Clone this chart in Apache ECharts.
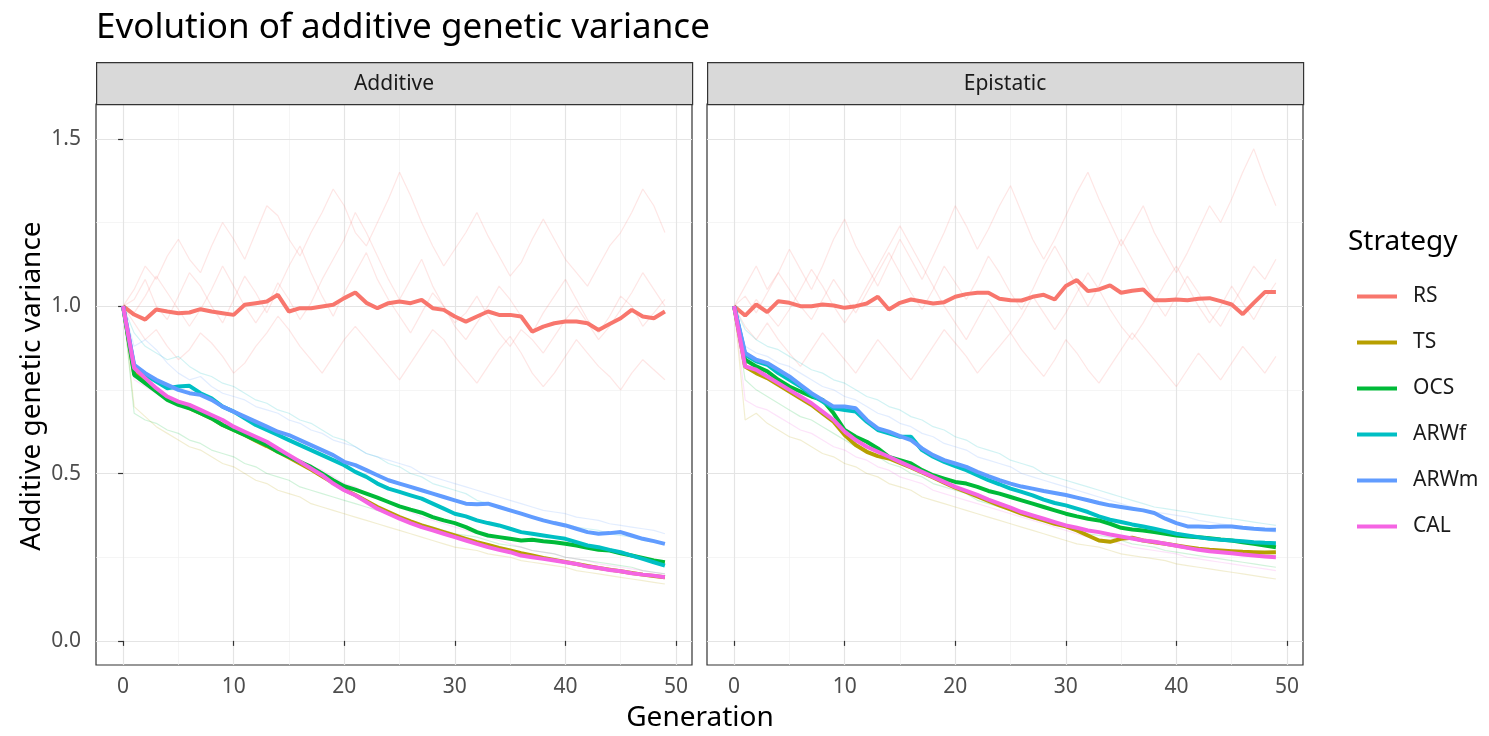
<!DOCTYPE html>
<html>
<head>
<meta charset="utf-8">
<script src="https://cdn.jsdelivr.net/npm/echarts@6/dist/echarts.min.js"></script>
<style>html,body{margin:0;padding:0;background:#fff;}#main{width:1489px;height:736px;}</style>
</head>
<body>
<div id="main"></div>
<script>
// ---------------- data ----------------
const GEN = [0,1,2,3,4,5,6,7,8,9,10,11,12,13,14,15,16,17,18,19,20,21,22,23,24,25,26,27,28,29,30,31,32,33,34,35,36,37,38,39,40,41,42,43,44,45,46,47,48,49];
const STRATEGIES = ['RS','TS','OCS','ARWf','ARWm','CAL'];
const FACETS = ['Additive','Epistatic'];
const X_TICKS = [0,10,20,30,40,50];
const X_MINOR = [5,15,25,35,45];
const Y_TICKS = [0,0.5,1,1.5];
const Y_MINOR = [0.25,0.75,1.25];

// mean lines, Additive facet
const ADD_RS = [1.000,0.975,0.960,0.990,0.984,0.979,0.981,0.991,0.984,0.979,
 0.974,1.004,1.009,1.014,1.034,0.984,0.994,0.994,0.999,1.004,
 1.024,1.041,1.010,0.994,1.009,1.014,1.009,1.019,0.994,0.989,
 0.969,0.954,0.969,0.984,0.974,0.974,0.969,0.924,0.939,0.949,
 0.954,0.954,0.949,0.929,0.947,0.964,0.989,0.969,0.964,0.984];
const ADD_TS = [1.000,0.800,0.775,0.750,0.725,0.710,0.695,0.680,0.665,0.645,
 0.630,0.615,0.598,0.582,0.565,0.548,0.530,0.512,0.492,0.472,
 0.452,0.436,0.418,0.400,0.385,0.370,0.357,0.345,0.335,0.325,
 0.315,0.305,0.295,0.287,0.278,0.270,0.262,0.255,0.248,0.242,
 0.236,0.230,0.224,0.218,0.213,0.208,0.203,0.198,0.194,0.190];
const ADD_OCS = [1.000,0.795,0.770,0.745,0.720,0.705,0.695,0.680,0.665,0.645,
 0.630,0.615,0.600,0.585,0.565,0.550,0.535,0.520,0.500,0.480,
 0.462,0.452,0.440,0.428,0.415,0.402,0.392,0.383,0.370,0.360,
 0.352,0.340,0.325,0.315,0.310,0.305,0.300,0.302,0.298,0.295,
 0.290,0.285,0.278,0.272,0.270,0.262,0.255,0.248,0.240,0.235];
const ADD_ARWf = [1.000,0.820,0.795,0.775,0.755,0.760,0.762,0.740,0.725,0.700,
 0.685,0.665,0.645,0.630,0.615,0.600,0.585,0.570,0.555,0.540,
 0.525,0.505,0.490,0.470,0.455,0.445,0.435,0.425,0.410,0.395,
 0.380,0.372,0.360,0.352,0.345,0.335,0.325,0.320,0.315,0.310,
 0.305,0.295,0.285,0.280,0.272,0.265,0.255,0.245,0.235,0.225];
const ADD_ARWm = [1.000,0.825,0.800,0.780,0.765,0.750,0.740,0.735,0.720,0.700,
 0.685,0.670,0.655,0.640,0.625,0.615,0.600,0.585,0.570,0.555,
 0.535,0.525,0.510,0.495,0.480,0.470,0.460,0.450,0.440,0.430,
 0.420,0.410,0.408,0.410,0.400,0.390,0.380,0.370,0.360,0.352,
 0.345,0.335,0.325,0.320,0.322,0.325,0.315,0.305,0.298,0.290];
const ADD_CAL = [1.000,0.815,0.785,0.755,0.730,0.715,0.705,0.690,0.675,0.660,
 0.640,0.625,0.610,0.595,0.575,0.555,0.535,0.515,0.495,0.470,
 0.450,0.435,0.415,0.395,0.380,0.365,0.352,0.340,0.330,0.320,
 0.310,0.300,0.290,0.280,0.272,0.265,0.255,0.250,0.245,0.240,
 0.235,0.230,0.222,0.218,0.212,0.208,0.202,0.198,0.195,0.190];

// mean lines, Epistatic facet
const EPI_RS = [1.000,0.972,1.005,0.982,1.015,1.010,1.000,1.000,1.005,1.002,
 0.995,1.000,1.008,1.028,0.990,1.010,1.020,1.014,1.008,1.012,
 1.028,1.036,1.040,1.040,1.022,1.018,1.017,1.028,1.034,1.020,
 1.060,1.078,1.045,1.050,1.062,1.040,1.046,1.050,1.018,1.018,
 1.020,1.018,1.022,1.024,1.015,1.005,0.976,1.010,1.042,1.042];
const EPI_TS = [1.000,0.820,0.800,0.785,0.765,0.745,0.725,0.705,0.680,0.655,
 0.615,0.585,0.565,0.552,0.545,0.532,0.518,0.503,0.488,0.473,
 0.458,0.445,0.432,0.418,0.405,0.393,0.380,0.370,0.360,0.350,
 0.342,0.330,0.315,0.300,0.296,0.305,0.308,0.300,0.295,0.290,
 0.285,0.280,0.275,0.272,0.270,0.268,0.266,0.265,0.264,0.265];
const EPI_OCS = [1.000,0.840,0.820,0.805,0.780,0.760,0.745,0.730,0.720,0.680,
 0.630,0.610,0.595,0.575,0.550,0.540,0.530,0.510,0.495,0.485,
 0.475,0.470,0.460,0.448,0.440,0.430,0.420,0.410,0.400,0.390,
 0.380,0.372,0.365,0.360,0.350,0.338,0.333,0.330,0.325,0.320,
 0.315,0.312,0.310,0.307,0.303,0.300,0.295,0.290,0.285,0.280];
const EPI_ARWf = [1.000,0.855,0.835,0.825,0.800,0.780,0.760,0.735,0.715,0.695,
 0.690,0.685,0.655,0.630,0.620,0.610,0.610,0.570,0.550,0.535,
 0.522,0.510,0.495,0.480,0.468,0.455,0.445,0.435,0.422,0.412,
 0.405,0.395,0.385,0.372,0.362,0.355,0.348,0.342,0.335,0.328,
 0.320,0.315,0.310,0.305,0.302,0.300,0.298,0.295,0.293,0.292];
const EPI_ARWm = [1.000,0.860,0.840,0.830,0.810,0.790,0.765,0.740,0.720,0.700,
 0.700,0.695,0.660,0.635,0.625,0.612,0.600,0.575,0.555,0.540,
 0.530,0.520,0.505,0.492,0.480,0.470,0.461,0.455,0.448,0.442,
 0.436,0.428,0.420,0.412,0.405,0.400,0.395,0.390,0.382,0.365,
 0.352,0.342,0.342,0.340,0.342,0.342,0.338,0.335,0.333,0.332];
const EPI_CAL = [1.000,0.820,0.810,0.790,0.770,0.750,0.730,0.710,0.685,0.660,
 0.625,0.600,0.580,0.565,0.550,0.535,0.520,0.505,0.490,0.475,
 0.460,0.448,0.436,0.422,0.410,0.398,0.385,0.375,0.365,0.355,
 0.345,0.338,0.330,0.325,0.318,0.312,0.306,0.300,0.296,0.290,
 0.284,0.278,0.272,0.268,0.265,0.262,0.258,0.255,0.252,0.250];

// faint replicate runs, Additive facet
const ADD_REP_RS_1 = [1.00,1.05,1.12,1.08,1.15,1.20,1.14,1.10,1.18,1.25,
 1.20,1.14,1.22,1.30,1.27,1.20,1.15,1.22,1.28,1.35,
 1.30,1.22,1.18,1.25,1.32,1.40,1.33,1.25,1.18,1.12,
 1.17,1.22,1.28,1.21,1.15,1.09,1.13,1.20,1.26,1.20,
 1.14,1.10,1.06,1.12,1.18,1.22,1.28,1.35,1.30,1.22];
const ADD_REP_RS_2 = [1.00,0.95,0.90,0.93,0.88,0.84,0.87,0.92,0.89,0.85,
 0.80,0.83,0.88,0.92,0.97,0.93,0.88,0.84,0.80,0.85,
 0.90,0.94,0.90,0.86,0.82,0.78,0.83,0.88,0.93,0.90,
 0.85,0.81,0.77,0.82,0.87,0.91,0.86,0.80,0.76,0.80,
 0.85,0.90,0.86,0.82,0.79,0.75,0.80,0.84,0.81,0.78];
const ADD_REP_RS_3 = [1.00,1.02,1.08,1.00,0.96,1.03,1.10,1.06,1.00,0.95,
 1.02,1.09,1.04,0.98,1.05,1.12,1.18,1.10,1.03,0.97,
 1.04,1.10,1.16,1.08,1.02,0.97,0.92,0.98,1.04,1.00,
 0.94,0.90,0.95,1.00,1.06,1.02,0.97,0.92,0.98,1.03,
 1.08,1.02,0.96,0.92,0.97,1.03,1.00,0.94,0.98,1.02];
const ADD_REP_RS_4 = [1.00,0.98,1.03,1.09,1.04,0.99,0.94,0.99,1.05,1.12,
 1.06,1.00,0.95,1.00,1.07,1.02,0.96,1.01,1.08,1.14,
 1.20,1.28,1.22,1.15,1.08,1.02,1.08,1.14,1.06,1.00,
 0.95,0.98,1.03,0.97,0.92,0.88,0.93,0.90,0.86,0.91,
 0.96,1.00,0.95,0.90,0.94,0.99,1.04,1.10,1.05,1.00];
const ADD_REP_TS = [1.00,0.70,0.67,0.64,0.62,0.60,0.58,0.57,0.55,0.53,
 0.52,0.50,0.48,0.47,0.45,0.44,0.43,0.41,0.40,0.39,
 0.38,0.37,0.36,0.35,0.34,0.33,0.32,0.31,0.30,0.29,
 0.28,0.275,0.27,0.26,0.255,0.25,0.24,0.235,0.23,0.225,
 0.22,0.21,0.205,0.20,0.195,0.19,0.185,0.18,0.175,0.17];
const ADD_REP_OCS = [1.00,0.68,0.66,0.65,0.63,0.62,0.60,0.59,0.57,0.56,
 0.55,0.53,0.52,0.50,0.49,0.48,0.46,0.45,0.44,0.43,
 0.42,0.41,0.40,0.39,0.38,0.37,0.36,0.35,0.34,0.33,
 0.32,0.315,0.31,0.30,0.29,0.285,0.28,0.27,0.265,0.26,
 0.25,0.245,0.24,0.235,0.23,0.225,0.22,0.21,0.205,0.20];
const ADD_REP_ARWf = [1.00,0.92,0.88,0.86,0.84,0.85,0.82,0.80,0.79,0.77,
 0.76,0.74,0.72,0.71,0.69,0.68,0.66,0.65,0.63,0.61,
 0.60,0.58,0.56,0.55,0.53,0.52,0.50,0.49,0.47,0.46,
 0.45,0.44,0.42,0.41,0.40,0.39,0.38,0.37,0.36,0.355,
 0.35,0.34,0.335,0.33,0.32,0.315,0.31,0.30,0.295,0.29];
const ADD_REP_ARWm = [1.00,0.88,0.90,0.87,0.83,0.80,0.78,0.79,0.76,0.74,
 0.73,0.72,0.70,0.69,0.68,0.66,0.65,0.63,0.62,0.60,
 0.59,0.58,0.56,0.55,0.54,0.53,0.52,0.50,0.49,0.48,
 0.47,0.46,0.45,0.44,0.43,0.42,0.41,0.40,0.39,0.385,
 0.38,0.37,0.365,0.36,0.35,0.345,0.34,0.335,0.33,0.32];
const ADD_REP_CAL = [1.00,0.78,0.76,0.74,0.72,0.70,0.69,0.68,0.66,0.65,
 0.63,0.62,0.61,0.59,0.57,0.56,0.54,0.52,0.51,0.49,
 0.47,0.46,0.44,0.43,0.41,0.40,0.385,0.37,0.36,0.35,
 0.34,0.33,0.32,0.31,0.30,0.29,0.28,0.27,0.265,0.26,
 0.25,0.245,0.24,0.23,0.225,0.22,0.215,0.21,0.205,0.20];

// faint replicate runs, Epistatic facet
const EPI_REP_RS_1 = [1.00,1.06,1.12,1.05,1.10,1.17,1.11,1.05,1.12,1.20,
 1.26,1.18,1.12,1.06,1.13,1.20,1.14,1.08,1.15,1.22,
 1.30,1.24,1.17,1.23,1.30,1.36,1.28,1.20,1.14,1.20,
 1.27,1.34,1.40,1.32,1.25,1.18,1.24,1.30,1.22,1.16,
 1.10,1.16,1.23,1.30,1.25,1.32,1.40,1.47,1.38,1.30];
const EPI_REP_RS_2 = [1.00,0.94,0.90,0.95,0.90,0.86,0.82,0.87,0.92,0.88,
 0.84,0.80,0.85,0.90,0.86,0.82,0.78,0.83,0.88,0.93,
 0.89,0.85,0.80,0.84,0.88,0.92,0.87,0.83,0.79,0.84,
 0.90,0.86,0.81,0.77,0.82,0.87,0.92,0.88,0.84,0.80,
 0.76,0.81,0.86,0.82,0.78,0.83,0.88,0.84,0.80,0.85];
const EPI_REP_RS_3 = [1.00,1.03,0.98,1.04,1.10,1.05,1.00,0.96,1.02,1.08,
 1.03,0.98,1.04,1.10,1.16,1.10,1.04,0.99,1.05,1.12,
 1.07,1.02,1.08,1.15,1.10,1.04,0.99,1.05,1.12,1.18,
 1.12,1.06,1.00,1.06,1.13,1.20,1.14,1.08,1.02,0.97,
 1.03,1.09,1.04,0.98,0.94,1.00,1.06,1.12,1.08,1.14];
const EPI_REP_RS_4 = [1.00,0.97,1.02,0.98,0.94,0.99,1.05,1.11,1.06,1.00,
 0.95,1.00,1.06,1.12,1.18,1.24,1.18,1.12,1.06,1.00,
 0.95,0.90,0.96,1.02,0.97,0.92,0.97,1.03,0.98,0.93,
 0.98,1.04,1.10,1.05,0.99,0.94,0.90,0.95,1.01,1.07,
 1.12,1.06,1.00,0.95,1.00,1.06,1.01,0.96,1.02,1.07];
const EPI_REP_TS = [1.00,0.66,0.68,0.65,0.63,0.61,0.60,0.58,0.56,0.55,
 0.53,0.52,0.50,0.49,0.47,0.46,0.45,0.43,0.42,0.41,
 0.40,0.39,0.38,0.37,0.36,0.35,0.34,0.33,0.32,0.31,
 0.30,0.29,0.285,0.28,0.27,0.26,0.255,0.25,0.245,0.24,
 0.23,0.225,0.22,0.215,0.21,0.205,0.20,0.195,0.19,0.185];
const EPI_REP_OCS = [1.00,0.78,0.75,0.73,0.71,0.69,0.67,0.66,0.64,0.62,
 0.60,0.58,0.57,0.55,0.53,0.52,0.50,0.49,0.47,0.46,
 0.45,0.44,0.42,0.41,0.40,0.39,0.38,0.37,0.36,0.35,
 0.34,0.33,0.32,0.315,0.31,0.30,0.29,0.285,0.28,0.27,
 0.265,0.26,0.255,0.25,0.245,0.24,0.235,0.23,0.225,0.22];
const EPI_REP_ARWf = [1.00,0.93,0.90,0.88,0.87,0.85,0.83,0.81,0.80,0.78,
 0.77,0.75,0.73,0.72,0.70,0.69,0.67,0.66,0.64,0.63,
 0.61,0.60,0.58,0.57,0.56,0.54,0.53,0.52,0.50,0.49,
 0.48,0.47,0.46,0.45,0.44,0.43,0.42,0.41,0.40,0.395,
 0.39,0.385,0.38,0.375,0.37,0.365,0.36,0.355,0.35,0.345];
const EPI_REP_ARWm = [1.00,0.88,0.86,0.85,0.83,0.82,0.80,0.78,0.76,0.75,
 0.73,0.72,0.70,0.68,0.67,0.65,0.64,0.62,0.61,0.59,
 0.58,0.57,0.55,0.54,0.53,0.52,0.50,0.49,0.48,0.47,
 0.46,0.45,0.44,0.43,0.42,0.41,0.40,0.39,0.385,0.38,
 0.375,0.37,0.36,0.355,0.35,0.345,0.34,0.335,0.33,0.325];
const EPI_REP_CAL = [1.00,0.72,0.70,0.69,0.67,0.65,0.63,0.62,0.60,0.58,
 0.57,0.55,0.54,0.52,0.51,0.49,0.48,0.47,0.45,0.44,
 0.43,0.42,0.41,0.40,0.39,0.38,0.37,0.36,0.35,0.34,
 0.33,0.32,0.31,0.305,0.30,0.29,0.28,0.275,0.27,0.265,
 0.26,0.25,0.245,0.24,0.235,0.23,0.225,0.22,0.215,0.21];

// ---------------- styling / assembly ----------------
const COLOR = {RS:'#F8766D', TS:'#B79F00', OCS:'#00BA38', ARWf:'#00BFC4', ARWm:'#619CFF', CAL:'#F564E3'};
const FONT = '"Noto Sans", "Open Sans", sans-serif';

const MEANS = [
  {RS:ADD_RS, TS:ADD_TS, OCS:ADD_OCS, ARWf:ADD_ARWf, ARWm:ADD_ARWm, CAL:ADD_CAL},
  {RS:EPI_RS, TS:EPI_TS, OCS:EPI_OCS, ARWf:EPI_ARWf, ARWm:EPI_ARWm, CAL:EPI_CAL}
];
const REPS = [
  [['RS',ADD_REP_RS_1],['RS',ADD_REP_RS_2],['RS',ADD_REP_RS_3],['RS',ADD_REP_RS_4],
   ['TS',ADD_REP_TS],['OCS',ADD_REP_OCS],['ARWf',ADD_REP_ARWf],['ARWm',ADD_REP_ARWm],['CAL',ADD_REP_CAL]],
  [['RS',EPI_REP_RS_1],['RS',EPI_REP_RS_2],['RS',EPI_REP_RS_3],['RS',EPI_REP_RS_4],
   ['TS',EPI_REP_TS],['OCS',EPI_REP_OCS],['ARWf',EPI_REP_ARWf],['ARWm',EPI_REP_ARWm],['CAL',EPI_REP_CAL]]
];

const pairs = arr => GEN.map((g,i) => [g, arr[i]]);

const PANEL_LEFT = [96, 707];
const PANEL_TOP = 104, PANEL_W = 596, PANEL_H = 561;

const grids = [], xAxes = [], yAxes = [], series = [], graphics = [];

FACETS.forEach((facet, k) => {
  grids.push({left: PANEL_LEFT[k], top: PANEL_TOP, width: PANEL_W, height: PANEL_H,
    show: true, borderColor: '#333333', borderWidth: 1.2, backgroundColor: '#ffffff'});
  xAxes.push({type: 'value', gridIndex: k, min: -2.45, max: 51.45,
    axisLine: {show: false},
    axisTick: {show: true, customValues: X_TICKS, length: 5, lineStyle: {color: '#333333', width: 1.2}},
    axisLabel: {show: true, customValues: X_TICKS, color: '#4d4d4d', fontSize: 21, fontFamily: FONT, margin: 12},
    splitLine: {show: false}});
  yAxes.push({type: 'value', gridIndex: k, min: -0.072, max: 1.604,
    axisLine: {show: false},
    axisTick: {show: k === 0, customValues: Y_TICKS, length: 5, lineStyle: {color: '#333333', width: 1.2}},
    axisLabel: {show: k === 0, customValues: Y_TICKS, color: '#4d4d4d', fontSize: 21, fontFamily: FONT, margin: 15,
      formatter: v => Number(v).toFixed(1)},
    splitLine: {show: false}});

  // panel grid lines drawn through the axes
  const gl = (w, c) => ({color: c, width: w, type: 'solid'});
  series.push({
    type: 'line', name: 'grid' + k, xAxisIndex: k, yAxisIndex: k, data: [[-100, -100]],
    symbol: 'none', silent: true, z: 0, lineStyle: {opacity: 0}, emphasis: {disabled: true},
    markLine: {silent: true, symbol: 'none', z: 0, animation: false, label: {show: false},
      emphasis: {disabled: true},
      data: [
        ...X_MINOR.map(v => ({xAxis: v, lineStyle: gl(0.7, '#f0f0f0')})),
        ...Y_MINOR.map(v => ({yAxis: v, lineStyle: gl(0.7, '#f0f0f0')})),
        ...X_TICKS.map(v => ({xAxis: v, lineStyle: gl(1.2, '#e4e4e4')})),
        ...Y_TICKS.map(v => ({yAxis: v, lineStyle: gl(1.2, '#e4e4e4')}))
      ]}
  });

  // faint replicate runs
  REPS[k].forEach(([s, arr], j) => {
    series.push({type: 'line', name: s + ' run ' + (j+1), xAxisIndex: k, yAxisIndex: k, data: pairs(arr),
      symbol: 'none', silent: true, z: 1, emphasis: {disabled: true},
      lineStyle: {color: COLOR[s], width: 1.2, opacity: 0.18}, itemStyle: {color: COLOR[s]}});
  });
  // mean lines
  STRATEGIES.forEach(s => {
    series.push({type: 'line', name: s, xAxisIndex: k, yAxisIndex: k, data: pairs(MEANS[k][s]),
      symbol: 'none', silent: true, z: 2, emphasis: {disabled: true},
      lineStyle: {color: COLOR[s], width: 4}, itemStyle: {color: COLOR[s]}});
  });

  // facet strip
  graphics.push({type: 'rect', left: PANEL_LEFT[k], top: 62, z: 10,
    shape: {width: PANEL_W, height: 42},
    style: {fill: '#d9d9d9', stroke: '#333333', lineWidth: 1.2}});
  graphics.push({type: 'text', x: PANEL_LEFT[k] + PANEL_W / 2, y: 84, z: 11,
    style: {text: facet, fill: '#1a1a1a', font: '21px ' + FONT, textAlign: 'center', textVerticalAlign: 'middle'}});
});

graphics.push({type: 'text', x: 700, y: 718, z: 11,
  style: {text: 'Generation', fill: '#000000', font: '28px ' + FONT, textAlign: 'center', textVerticalAlign: 'middle'}});
graphics.push({type: 'text', x: 32, y: 386, rotation: Math.PI / 2, z: 11,
  style: {text: 'Additive genetic variance', fill: '#000000', font: '28px ' + FONT, textAlign: 'center', textVerticalAlign: 'middle'}});
graphics.push({type: 'text', x: 1348, y: 242, z: 11,
  style: {text: 'Strategy', fill: '#000000', font: '28px ' + FONT, textAlign: 'left', textVerticalAlign: 'middle'}});

const chart = echarts.init(document.getElementById('main'), null, {renderer: 'canvas'});
chart.setOption({
  animation: false,
  backgroundColor: '#ffffff',
  title: {text: 'Evolution of additive genetic variance', left: 91, top: 6,
    textStyle: {fontSize: 35, fontWeight: 'normal', color: '#000000', fontFamily: FONT}},
  legend: {data: STRATEGIES, orient: 'vertical', left: 1352, top: 281, icon: 'rect',
    itemWidth: 40, itemHeight: 4, itemGap: 25, selectedMode: false,
    textStyle: {fontSize: 21, color: '#1a1a1a', fontFamily: FONT, padding: [0, 0, 0, 11]}},
  grid: grids, xAxis: xAxes, yAxis: yAxes, series: series, graphic: graphics
});
</script>
</body>
</html>
